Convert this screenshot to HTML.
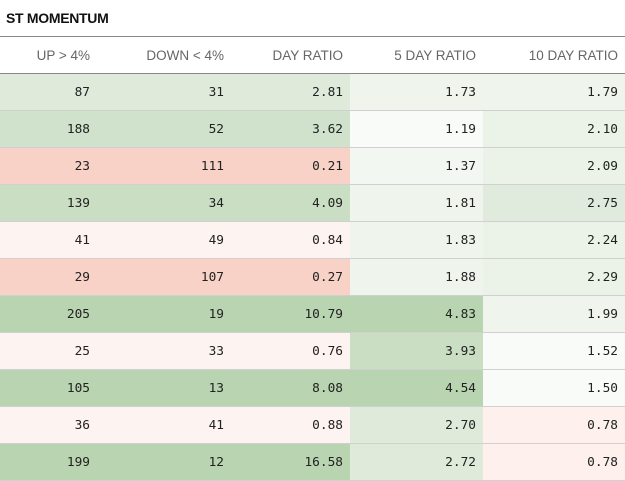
<!DOCTYPE html>
<html><head><meta charset="utf-8"><style>
body{margin:0;width:625px;height:479px;overflow:hidden;background:#fff;font-family:"Liberation Sans",sans-serif}
.title{position:absolute;left:6px;top:10px;font-size:14px;font-weight:bold;color:#111;letter-spacing:-0.3px}
table{position:absolute;left:0;top:36px;width:625px;border-collapse:collapse;table-layout:fixed}
th{height:36px;font-weight:normal;font-size:13.5px;color:#666;text-align:right;border-top:1px solid #888;border-bottom:1px solid #888;padding:0 7px 0 0}
td{height:36px;font-family:"DejaVu Sans Mono","Liberation Mono",monospace;font-size:12.8px;color:#222;text-align:right;border-bottom:1px solid #d0d0d0;padding:0 7px 0 0}
</style></head><body>
<div class="title">ST MOMENTUM</div>
<table>
<colgroup><col style="width:98px"><col style="width:133px"><col style="width:119px"><col style="width:133px"><col style="width:142px"></colgroup>
<thead><tr>
<th style="padding-right:8px">UP &gt; 4%</th>
<th>DOWN &lt; 4%</th>
<th>DAY RATIO</th>
<th>5 DAY RATIO</th>
<th>10 DAY RATIO</th>
</tr></thead>
<tbody id="tb"></tbody></table>
<script>
const ups=[87,188,23,139,41,29,205,25,105,36,199];
const downs=[31,52,111,34,49,107,19,33,13,41,12];
const dayRatios=["2.81","3.62","0.21","4.09","0.84","0.27","10.79","0.76","8.08","0.88","16.58"];
const fiveRatios=["1.73","1.19","1.37","1.81","1.83","1.88","4.83","3.93","4.54","2.70","2.72"];
const tenRatios=["1.79","2.10","2.09","2.75","2.24","2.29","1.99","1.52","1.50","0.78","0.78"];
function col(v){v=parseFloat(v);
 if(v<0.5)return"#f8d2c7";
 if(v<1)return"#fdf3f0";
 if(v<1.3)return"#f9fbf8";
 if(v<1.6)return"#f3f7f1";
 if(v<2.0)return"#eff5ed";
 if(v<2.5)return"#e8f1e5";
 if(v<3)return"#dfeadb";
 if(v<3.8)return"#d0e2cc";
 if(v<4.3)return"#c9dec3";
 return"#b9d4b1";}
function col10(v){v=parseFloat(v);
 if(v<1)return"#fdf0ed";
 if(v<1.6)return"#f9fbf8";
 if(v<2.0)return"#eff5ed";
 if(v<2.5)return"#ebf3e8";
 return"#e1ebdd";}
const tb=document.getElementById('tb');
for(let i=0;i<ups.length;i++){
 const tr=document.createElement('tr');
 
 
 const c=col(dayRatios[i]);
 const vals=[ups[i],downs[i],dayRatios[i],fiveRatios[i],tenRatios[i]];
 const bgs=[c,c,c,col(fiveRatios[i]),col10(tenRatios[i])];
 const names=['up-count','down-count','day-ratio','five-day-ratio','ten-day-ratio'];
 vals.forEach((v,j)=>{
  const td=document.createElement('td');
  
  
  td.textContent=v;td.style.background=bgs[j];
  if(j==0)td.style.paddingRight='8px';
  tr.appendChild(td);});
 tb.appendChild(tr);}
</script>
</body></html>
